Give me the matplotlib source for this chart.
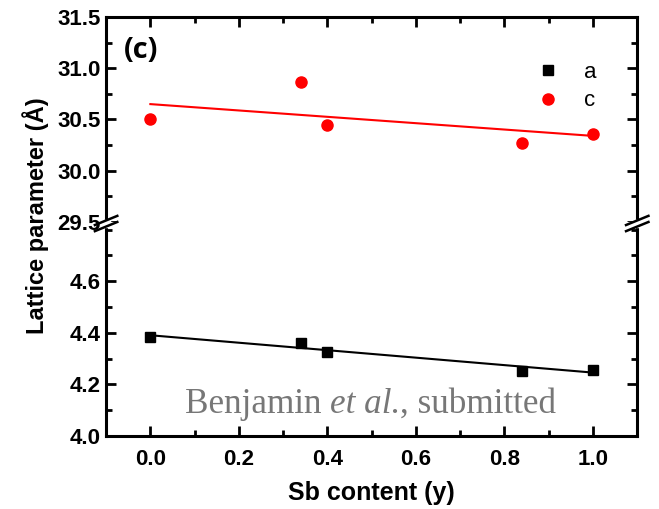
import numpy as np
import matplotlib
matplotlib.use("Agg")
from matplotlib import pyplot as plt
from matplotlib.ticker import MultipleLocator, FormatStrFormatter

sb = [0.0, 0.34, 0.40, 0.84, 1.0]
a_vals = [4.384, 4.362, 4.326, 4.252, 4.256]
c_vals = [30.50, 30.87, 30.45, 30.27, 30.36]

plt.rcParams['font.family'] = ['Liberation Sans', 'DejaVu Sans']
plt.rcParams['font.weight'] = 'bold'

fig = plt.figure(figsize=(6.59, 5.09), dpi=100)
L, R = 0.161, 0.967
B, MID, T = 0.1434, 0.5639, 0.9666
ax_top = fig.add_axes([L, MID, R - L, T - MID])
ax_bot = fig.add_axes([L, B, R - L, MID - B])

# linear fits
xfit = np.array([0.0, 1.0])
ka, ba = np.polyfit(sb, a_vals, 1)
kc, bc = np.polyfit(sb, c_vals, 1)

ax_top.plot(sb, c_vals, 'o', color='red', ms=8, label='c', zorder=3)
ax_top.plot(xfit, kc * xfit + bc, '-', color='red', lw=1.5)
ax_bot.plot(sb, a_vals, 's', color='black', ms=7, label='a', zorder=3)
ax_bot.plot(xfit, ka * xfit + ba, '-', color='black', lw=1.5)

ax_top.set_ylim(29.5, 31.5)
ax_bot.set_ylim(4.0, 4.83)
for ax in (ax_top, ax_bot):
    ax.set_xlim(-0.1, 1.1)
    ax.xaxis.set_major_locator(MultipleLocator(0.2))
    ax.xaxis.set_minor_locator(MultipleLocator(0.1))
    ax.tick_params(which='both', direction='in', top=True, right=True, width=2, labelsize=16)
    ax.tick_params(which='major', length=7)
    ax.tick_params(which='minor', length=4)
    ax.tick_params(axis='y', pad=4)
    ax.tick_params(axis='x', pad=9)
    for s in ax.spines.values():
        s.set_linewidth(2.2)

ax_top.yaxis.set_major_locator(MultipleLocator(0.5))
ax_top.yaxis.set_minor_locator(MultipleLocator(0.25))
ax_top.yaxis.set_major_formatter(FormatStrFormatter('%.1f'))
ax_bot.set_yticks([4.0, 4.2, 4.4, 4.6])
ax_bot.yaxis.set_minor_locator(MultipleLocator(0.1))
ax_bot.yaxis.set_major_formatter(FormatStrFormatter('%.1f'))

ax_top.spines['bottom'].set_visible(False)
ax_bot.spines['top'].set_visible(False)
ax_top.tick_params(axis='x', which='both', bottom=False, labelbottom=False)
ax_bot.tick_params(axis='x', which='both', top=False)

# break marks
for xp in (L, R):
    fig.add_artist(plt.Rectangle((xp - 0.006, MID - 0.009), 0.012, 0.012,
                                 color='white', transform=fig.transFigure, zorder=5))
    for dy in (-0.009, 0.003):
        fig.add_artist(plt.Line2D([xp - 0.017, xp + 0.017],
                                  [MID + dy - 0.009, MID + dy + 0.009],
                                  color='black', lw=1.8, transform=fig.transFigure, zorder=6))

ax_top.text(0.066, 0.835, '(c)', transform=ax_top.transAxes, fontsize=21,
            fontweight='bold', ha='center', va='center', family=['Open Sans', 'DejaVu Sans'])

h1, l1 = ax_bot.get_legend_handles_labels()
h2, l2 = ax_top.get_legend_handles_labels()
ax_top.legend(h1 + h2, l1 + l2, loc='upper right', bbox_to_anchor=(0.96, 0.88),
              frameon=False, prop={'weight': 'normal', 'size': 16},
              handletextpad=1.0, labelspacing=0.35, handlelength=1.2)

fig.text(0.5 * (L + R), 1 - 493 / 509, 'Sb content (y)', ha='center', va='center',
         fontsize=18, fontweight='bold')
fig.text(0.054, 1 - 216 / 509, 'Lattice parameter (Å)', rotation=90, ha='center',
         va='center', fontsize=17, fontweight='bold')

# watermark in three pieces (roman / italic / roman)
wm = dict(fontsize=25.3, color='#777777', family='Liberation Serif', fontweight='normal')
t1 = ax_bot.text(0.148, 0.07, 'Benjamin ', transform=ax_bot.transAxes,
                 ha='left', va='bottom', **wm)
t2 = ax_bot.annotate('et al.', xy=(1, 0), xycoords=t1, ha='left', va='bottom',
                     fontstyle='italic', **wm)
ax_bot.annotate(', submitted', xy=(1, 0), xycoords=t2, ha='left', va='bottom', **wm)

fig.savefig('out.png', dpi=100)
